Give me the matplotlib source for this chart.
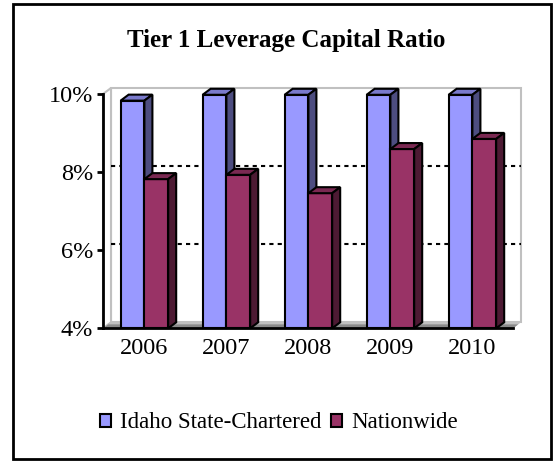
import matplotlib
matplotlib.use("Agg")
import matplotlib.pyplot as plt
from matplotlib.patches import Polygon, Rectangle, Patch

plt.rcParams['font.family'] = ['Liberation Serif', 'DejaVu Serif']

categories = ["2006", "2007", "2008", "2009", "2010"]
idaho = [9.83, 9.98, 9.98, 9.98, 9.98]
nationwide = [7.82, 7.93, 7.46, 8.59, 8.85]
series_names = ["Idaho State-Chartered", "Nationwide"]
yticks = [4, 6, 8, 10]
ytick_labels = ["4%", "6%", "8%", "10%"]

W, H = 557, 462
fig = plt.figure(figsize=(W / 100, H / 100), dpi=100)
fig.patch.set_facecolor("white")

# axes front rectangle in pixels
x0, x1 = 103, 513
y_bot, y_top = 328.3, 94
ax = fig.add_axes([x0 / W, 1 - y_bot / H, (x1 - x0) / W, (y_bot - y_top) / H])
ncat = len(categories)
ax.set_xlim(0, ncat)
ax.set_ylim(4, 10)
for s in ax.spines.values():
    s.set_visible(False)
ax.patch.set_alpha(0)

px_x = ncat / (x1 - x0)
px_y = 6 / (y_bot - y_top)
dx = 8 * px_x
dy = 6 * px_y

gray = "#c0c0c0"
# back wall
ax.add_patch(Polygon([(dx, 4 + dy), (ncat + dx, 4 + dy), (ncat + dx, 10 + dy), (dx, 10 + dy)],
                     closed=True, facecolor="white", edgecolor=gray, lw=1.5, clip_on=False, zorder=1))
# left wall
ax.add_patch(Polygon([(0, 4), (dx, 4 + dy), (dx, 10 + dy), (0, 10)],
                     closed=True, facecolor="white", edgecolor=gray, lw=1.5, clip_on=False, zorder=1))
# gridlines on back wall
for g in [6, 8]:
    ax.plot([dx, ncat + dx], [g + dy, g + dy], color="black", lw=1.5,
            linestyle=(0, (2, 2)), clip_on=False, zorder=2)
# floor
ax.add_patch(Polygon([(0, 4), (ncat, 4), (ncat + dx, 4 + dy), (dx, 4 + dy)],
                     closed=True, facecolor=gray, edgecolor="none", clip_on=False, zorder=2))
ax.add_patch(Polygon([(0, 4), (ncat, 4), (ncat + dx * 0.65, 4 + dy * 0.65), (dx * 0.65, 4 + dy * 0.65)],
                     closed=True, facecolor="#8a8a8a", edgecolor="none", clip_on=False, zorder=2))

colors = [("#9999FF", "#7A7ACC", "#4D4D80"), ("#993366", "#7A2952", "#4D1A33")]
bw = 0.29
offsets = [-0.285, 0.005]

def bar3d(left, val, cols, z):
    front, top, side = cols
    r = left + bw
    kw = dict(closed=True, edgecolor="black", lw=1.5, clip_on=False, zorder=z, joinstyle="miter")
    ax.add_patch(Polygon([(left, 4), (r, 4), (r, val), (left, val)], facecolor=front, **kw))
    ax.add_patch(Polygon([(left, val), (r, val), (r + dx, val + dy), (left + dx, val + dy)], facecolor=top, **kw))
    ax.add_patch(Polygon([(r, 4), (r + dx, 4 + dy), (r + dx, val + dy), (r, val)], facecolor=side, **kw))

for i in range(ncat):
    c = i + 0.5
    for j, vals in enumerate([idaho, nationwide]):
        bar3d(c + offsets[j], vals[i], colors[j], 3 + j)

# axes lines
ax.plot([0, 0], [4, 10], color="black", lw=2, clip_on=False, zorder=6)
ax.plot([0, ncat], [4, 4], color="black", lw=2, clip_on=False, zorder=6)

ax.set_yticks(yticks)
ax.set_yticklabels(ytick_labels, fontsize=17.5)
ax.tick_params(axis="y", length=4, width=2, direction="out", pad=3)
ax.set_xticks([i + 0.5 for i in range(ncat)])
ax.set_xticklabels(categories, fontsize=17.5)
ax.tick_params(axis="x", length=0, pad=7)

fig.text(286 / W, 1 - 40 / H, "Tier 1 Leverage Capital Ratio", ha="center", va="center",
         fontsize=18, fontweight="bold")

handles = [Patch(facecolor=colors[k][0], edgecolor="black", lw=1.5) for k in range(2)]
fig.legend(handles, series_names, loc="center", bbox_to_anchor=(279 / W, 1 - 423 / H),
           ncol=2, frameon=False, fontsize=16.5, handlelength=0.5, handleheight=0.5,
           handletextpad=0.4, columnspacing=0.4)

# outer frame
fig.add_artist(Rectangle((13 / W, 1 - 459 / H), (551 - 13) / W, (459 - 4) / H,
                         transform=fig.transFigure, fill=False, edgecolor="black", lw=2))

fig.savefig("out.png", dpi=100)
